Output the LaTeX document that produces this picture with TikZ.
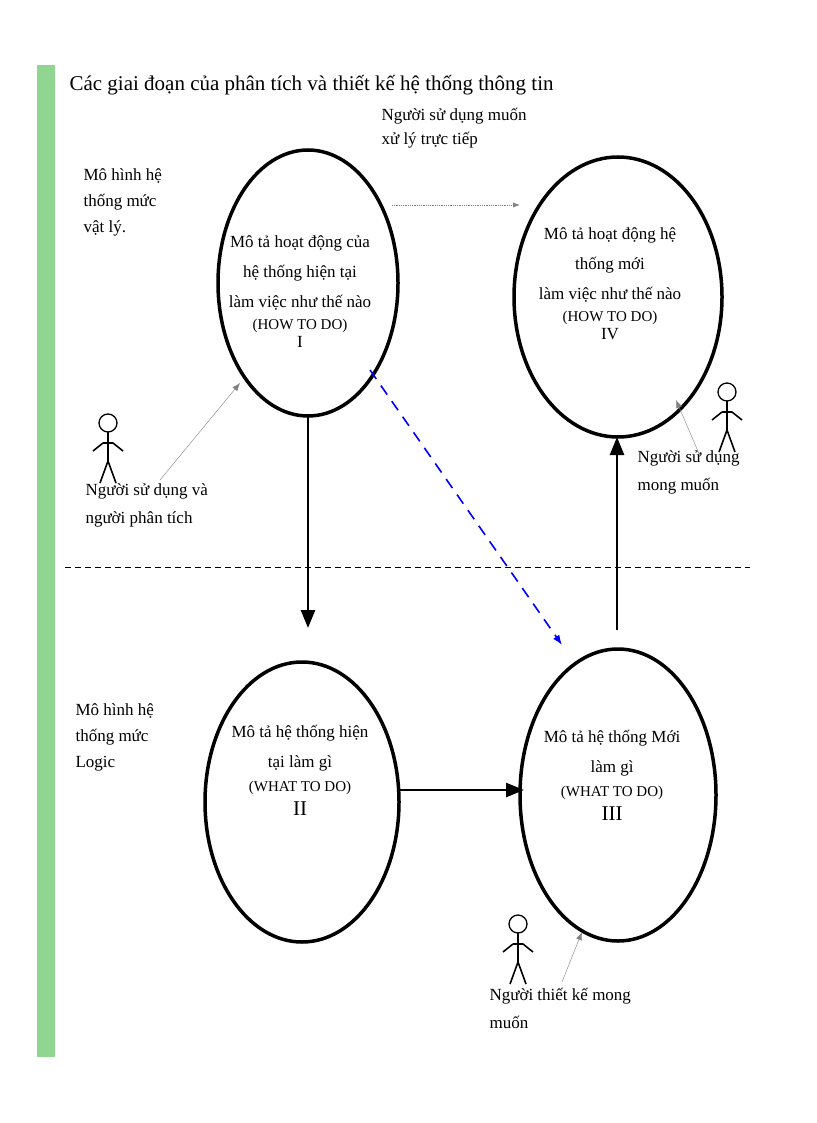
\documentclass[tikz,border=0pt]{standalone}
\usepackage{fontspec}
\setmainfont{Liberation Serif}
\usetikzlibrary{arrows.meta}
\newcommand\smf{\fontsize{15}{30}\selectfont}
\begin{document}
\begin{tikzpicture}[x=1pt,y=-1pt,
 txt/.style={align=center,font=\fontsize{17}{30}\selectfont},
 lbl/.style={align=left,font=\fontsize{17}{30}\selectfont,anchor=north west},
 thin/.style={gray,-{Latex[length=8pt]}},
 main/.style={line width=2.6pt,-{Triangle[length=18pt,width=14pt]}}]
\useasboundingbox (0,0) rectangle (816,1123);
\fill[white] (0,0) rectangle (816,1123);
\fill[green!45!gray!60!white] (37,65) rectangle (55,1057);
\node[anchor=west,font=\fontsize{21}{24}\selectfont] (title) at (66,85) {Các giai đoạn của phân tích và thiết kế hệ thống thông tin};
\draw[line width=3.5pt] (308,283) ellipse [x radius=90,y radius=133];
\draw[line width=3.5pt] (618,297) ellipse [x radius=104,y radius=140];
\draw[line width=3.5pt] (302,802) ellipse [x radius=97,y radius=140];
\draw[line width=3.5pt] (618,795) ellipse [x radius=98,y radius=146];
\coordinate (Ib) at (308,416); \coordinate (IIt) at (308,628);
\coordinate (IIr) at (399,790); \coordinate (IIIl) at (524,790);
\coordinate (IIIt) at (617,630); \coordinate (IVb) at (617,437);
\node[txt] (t1) at (300,292) {Mô tả hoạt động của\\hệ thống hiện tại\\làm việc như thế nào\\[-8pt]{\smf (HOW TO DO)}\\[-12pt]I};
\node[txt] (t4) at (610,284) {Mô tả hoạt động hệ\\thống mới\\làm việc như thế nào\\[-8pt]{\smf (HOW TO DO)}\\[-12pt]IV};
\node[txt] (t2) at (300,770) {Mô tả hệ thống hiện\\tại làm gì\\[-6pt]{\smf (WHAT TO DO)}\\[-6pt]{\fontsize{21}{24}\selectfont II}};
\node[txt] (t3) at (612,775) {Mô tả hệ thống Mới\\làm gì\\[-6pt]{\smf (WHAT TO DO)}\\[-6pt]{\fontsize{21}{24}\selectfont III}};
\draw[main] (Ib) -- (IIt);
\draw[main] (IIr) -- (IIIl);
\draw[main] (IIIt) -- (IVb);
\draw[line width=1pt,dash pattern=on 6pt off 4pt] (65,567) -- (750,567);
\draw[blue,line width=1.6pt,dash pattern=on 11pt off 8pt,-{Latex[length=10pt]}] (370,370) -- (562,645);
\draw[gray,densely dotted,line width=0.8pt,-{Latex[length=7pt]}] (392,205) -- (520,205);
\node[lbl] (u) at (378,105) {Người sử dụng muốn\\[-6pt]xử lý trực tiếp};
\node[lbl] (m1) at (80,165) {Mô hình hệ\\[-4pt]thống mức\\[-4pt]vật lý.};
\node[lbl] (m2) at (72,700) {Mô hình hệ\\[-4pt]thống mức\\[-4pt]Logic};
\node[lbl] (a1) at (82,480) {Người sử dụng và\\[-2pt]người phân tích};
\node[lbl] (a2) at (634,447) {Người sử dụng\\[-2pt]mong muốn};
\node[lbl] (a3) at (486,985) {Người thiết kế mong\\[-2pt]muốn};
\coordinate (p1) at (160,480); \coordinate (q1) at (240,383);
\coordinate (p2) at (700,456); \coordinate (q2) at (676,400);
\coordinate (p3) at (562,982); \coordinate (q3) at (582,932);
\draw[thin] (p1) -- (q1);
\draw[thin] (p2) -- (q2);
\draw[thin] (p3) -- (q3);
\foreach \x/\y in {108/423, 727/392, 518/924}{
 \draw[line width=1.3pt] (\x,\y) circle (9);
 \draw[line width=2pt] (\x,\y+9) -- (\x,\y+40);
 \draw[line width=1.6pt] (\x-15,\y+28) -- (\x-5,\y+20) (\x+5,\y+20) -- (\x+15,\y+28) (\x-5,\y+20) -- (\x+5,\y+20);
 \draw[line width=1.6pt] (\x-8,\y+60) -- (\x,\y+38) -- (\x+8,\y+60);
}
\end{tikzpicture}
\end{document}
